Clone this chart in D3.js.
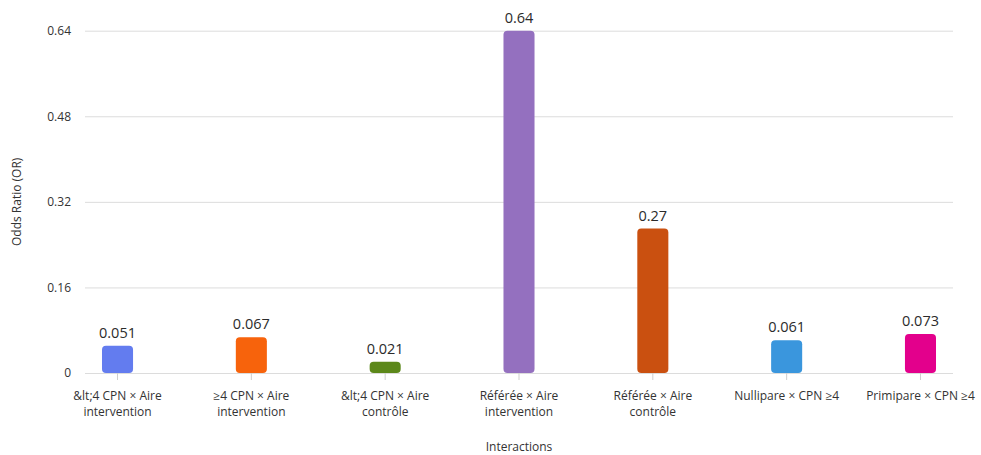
<!DOCTYPE html>
<html>
<head>
<meta charset="utf-8">
<script src="https://cdn.jsdelivr.net/npm/d3@7"></script>
<style>
  html, body { margin: 0; padding: 0; background: #fff; }
  svg { display: block; }
  svg text { font-family: "Open Sans", "Noto Sans", sans-serif; }
</style>
</head>
<body>
<svg id="chart" width="981" height="455"></svg>
<script>
const categories = [
  "&lt;4 CPN × Aire intervention",
  "≥4 CPN × Aire intervention",
  "&lt;4 CPN × Aire contrôle",
  "Référée × Aire intervention",
  "Référée × Aire contrôle",
  "Nullipare × CPN ≥4",
  "Primipare × CPN ≥4"
];
const values = [0.051, 0.067, 0.021, 0.64, 0.27, 0.061, 0.073];
const valueLabels = ["0.051", "0.067", "0.021", "0.64", "0.27", "0.061", "0.073"];
const colors = ["#637CEF", "#F7630C", "#5C881A", "#9470BF", "#CA5010", "#3A96DD", "#E3008C"];
const yTicks = [0, 0.16, 0.32, 0.48, 0.64];
const yTickLabels = ["0", "0.16", "0.32", "0.48", "0.64"];
const yTitle = "Odds Ratio (OR)";
const xTitle = "Interactions";

const FONT = '"Open Sans", "Noto Sans", sans-serif';
const svg = d3.select("#chart");
const mLeft = 85, mRight = 953, mTop = 30.7, mBottom = 373;

const x = d3.scaleBand().domain(categories).range([mLeft, mRight])
  .paddingInner(0.768).paddingOuter(0.127);
const y = d3.scaleLinear().domain([0, 0.64]).range([mBottom, mTop]);

// gridlines
const yAxis = d3.axisLeft(y).tickValues(yTicks)
  .tickFormat((d, i) => yTickLabels[i]).tickSize(-(mRight - mLeft)).tickPadding(14);
const gy = svg.append("g").attr("transform", `translate(${mLeft},0)`).call(yAxis)
  .attr("font-family", FONT);
gy.select(".domain").remove();
gy.selectAll(".tick line").attr("stroke", "#dcdcdc").attr("stroke-width", 1);
gy.selectAll(".tick text").attr("fill", "#333").attr("font-size", 12).attr("x", -14);

// x axis
const xAxis = d3.axisBottom(x).tickSize(7).tickPadding(11);
const gx = svg.append("g").attr("transform", `translate(0,${mBottom})`).call(xAxis)
  .attr("font-family", FONT);
gx.select(".domain").remove();
gx.selectAll(".tick line").attr("stroke", "#cfcfcf");
gx.selectAll(".tick text").attr("fill", "#333").attr("font-size", 12)
  .call(wrap, 124);

function wrap(texts, width) {
  texts.each(function () {
    const text = d3.select(this);
    const words = text.text().split(/\s+/);
    const yy = text.attr("y");
    text.text(null);
    let line = [];
    let lineNo = 0;
    let tspan = text.append("tspan").attr("x", 0).attr("y", yy).attr("dy", "0.71em");
    for (const w of words) {
      line.push(w);
      tspan.text(line.join(" "));
      if (tspan.node().getComputedTextLength() > width && line.length > 1) {
        line.pop();
        tspan.text(line.join(" "));
        line = [w];
        lineNo++;
        tspan = text.append("tspan").attr("x", 0).attr("y", yy)
          .attr("dy", (0.71 + lineNo * 1.38) + "em").text(w);
      }
    }
  });
}

// bars
svg.append("g").selectAll("rect").data(values).join("rect")
  .attr("x", (d, i) => x(categories[i]))
  .attr("y", d => y(d))
  .attr("width", x.bandwidth())
  .attr("height", d => mBottom - y(d))
  .attr("rx", 4).attr("ry", 4)
  .attr("fill", (d, i) => colors[i]);

// value labels
svg.append("g").selectAll("text").data(values).join("text")
  .attr("x", (d, i) => x(categories[i]) + x.bandwidth() / 2)
  .attr("y", d => y(d) - 8)
  .attr("text-anchor", "middle")
  .attr("fill", "#2b2b2b")
  .attr("font-size", 14.5)
  .attr("font-weight", 500)
  .text((d, i) => valueLabels[i]);

// axis titles
svg.append("text")
  .attr("transform", `translate(21,${(mTop + mBottom) / 2}) rotate(-90)`)
  .attr("text-anchor", "middle")
  .attr("fill", "#333").attr("font-size", 12)
  .text(yTitle);
svg.append("text")
  .attr("x", (mLeft + mRight) / 2).attr("y", 451)
  .attr("text-anchor", "middle")
  .attr("fill", "#333").attr("font-size", 12)
  .text(xTitle);
</script>
</body>
</html>
